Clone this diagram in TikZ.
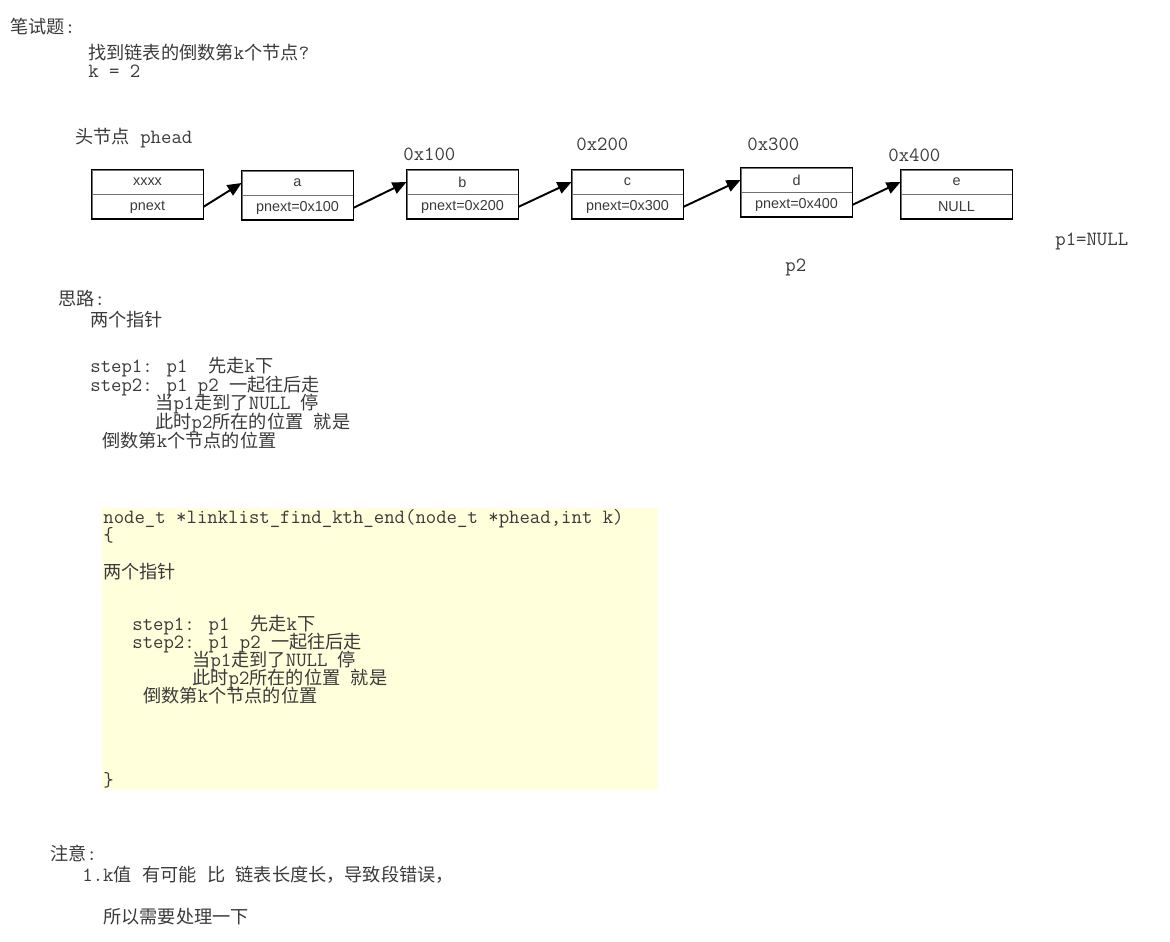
\documentclass[tikz,border=0pt]{standalone}
\usepackage{fontspec}
\setsansfont{Liberation Sans}
\newfontfamily\cjk{Noto Sans CJK SC}[Scale=0.9]
\newcommand\latfont{\ttfamily}
\usepackage{tikz}
\usetikzlibrary{arrows.meta,positioning}
% switch to the CJK family for Han characters, back to mono after them
\XeTeXinterchartokenstate=1
\newXeTeXintercharclass\hanclass
\count255="4E00
\loop\XeTeXcharclass\count255=\hanclass\advance\count255 by 1 \ifnum\count255<"A000 \repeat
\count255="3000
\loop\XeTeXcharclass\count255=\hanclass\advance\count255 by 1 \ifnum\count255<"3040 \repeat
\count255="FF01
\loop\XeTeXcharclass\count255=\hanclass\advance\count255 by 1 \ifnum\count255<"FF5F \repeat
\XeTeXinterchartoks 0 \hanclass={\cjk}
\XeTeXinterchartoks 4095 \hanclass={\cjk}
\XeTeXinterchartoks \hanclass 0={\latfont}
\XeTeXinterchartoks \hanclass 4095={\latfont}
\definecolor{inkgray}{HTML}{3A3A3A}
\definecolor{splitgray}{HTML}{707070}
\definecolor{codefill}{HTML}{FFFFDC}

\begin{document}
\begin{tikzpicture}[x=0.02cm, y=-0.02cm,
    txt/.style={anchor=base west, inner sep=0pt, text=inkgray, font=\ttfamily\fontsize{11.5}{14}\selectfont},
    cell/.style={draw=splitgray, line width=0.5pt, minimum width=2.22cm, minimum height=0.48cm, inner sep=0pt, font=\sffamily\fontsize{8.2}{9}\selectfont, text=inkgray},
    outline/.style={draw=black, line width=1pt},
    link/.style={-{Triangle[length=2.8mm,width=2.4mm]}, line width=1.1pt}
]
\useasboundingbox (0,0) rectangle (1170,942);

% question
\node[txt] (title) at (10,34) {笔试题:};
\node[txt] (ask) at (88,60) {找到链表的倒数第k个节点?};
\node[txt] (kval) at (88,78) {k = 2};

% list
\node[txt] (headlbl) at (75,144) {头节点 phead};
\foreach \n/\x/\y/\v/\p in {h/147.5/182/xxxx/pnext, a/297.5/183/a/pnext=0x100, b/462.5/182/b/pnext=0x200, c/627.5/182/c/pnext=0x300, d/796.5/180/d/pnext=0x400, e/956.5/182/e/NULL}{
    \node[cell] (\n-val) at (\x,\y) {\v};
    \node[cell, below=0pt of \n-val] (\n-next) {\p};
    \draw[outline] (\n-val.north west) rectangle (\n-next.south east);
}
\foreach \s/\t in {h/a, a/b, b/c, c/d, d/e}
    \draw[link] (\s-next.east) -- (\t-val.west);
\foreach \n/\x/\y/\t in {b/403/161/0x100, c/576/151/0x200, d/747/151/0x300, e/888/162/0x400}
    \node[txt] (\n-addr) at (\x,\y) {\t};
\node[txt] (p1lbl) at (1055,246) {p1=NULL};
\node[txt] (p2lbl) at (785,272) {p2};

% idea
\node[txt] (idea) at (58,306) {思路:};
\node[txt] (idea-1) at (90,327) {两个指针};
\node[txt] (idea-2) at (90,373) {step1: p1\ \ 先走k下};
\node[txt] (idea-3) at (90,391.5) {step2: p1 p2 一起往后走};
\node[txt] (idea-4) at (155,410) {当p1走到了NULL 停};
\node[txt] (idea-5) at (155,429) {此时p2所在的位置 就是};
\node[txt] (idea-6) at (102,448) {倒数第k个节点的位置};

% code
\fill[codefill] (102,508) rectangle (658,790);
\node[txt] (code-1) at (103,523) {node\_t *linklist\_find\_kth\_end(node\_t *phead,int k)};
\node[txt] (code-2) at (103,541) {\{};
\node[txt] (code-3) at (103,578) {两个指针};
\node[txt] (code-4) at (132,630) {step1: p1\ \ 先走k下};
\node[txt] (code-5) at (132,648) {step2: p1 p2 一起往后走};
\node[txt] (code-6) at (192,666) {当p1走到了NULL 停};
\node[txt] (code-7) at (192,684) {此时p2所在的位置 就是};
\node[txt] (code-8) at (143,702) {倒数第k个节点的位置};
\node[txt] (code-9) at (103,786) {\}};

% note
\node[txt] (note) at (50,860) {注意:};
\node[txt] (note-1) at (82,881) {1.k值 有可能 比 链表长度长，导致段错误，};
\node[txt] (note-2) at (103,923) {所以需要处理一下};
\end{tikzpicture}
\end{document}
